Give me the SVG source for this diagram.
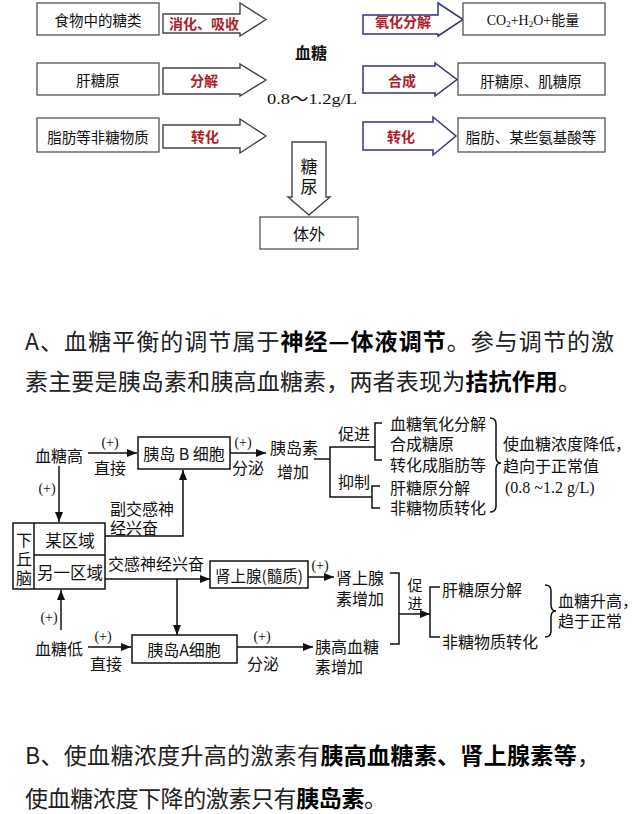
<svg xmlns="http://www.w3.org/2000/svg" width="640" height="814" viewBox="0 0 640 814">
<defs>
<style>
text{font-family:"Noto Sans CJK SC","Noto Sans",sans-serif;fill:#111;dominant-baseline:central}
.box{fill:#fff;stroke:#555;stroke-width:1.3}
.arL{fill:#fff;stroke:#444;stroke-width:1.4}
.arR{fill:#fff;stroke:#33337a;stroke-width:1.5}
.t1{font-size:14.5px;text-anchor:middle}
.red{font-size:14px;fill:#b01c28;font-weight:bold;text-anchor:middle}
.d{font-size:16px}
.c{text-anchor:middle}
.pl{font-family:"Liberation Serif","Noto Sans CJK SC",serif;font-size:14px;text-anchor:middle}
.ln{fill:none;stroke:#111;stroke-width:1.5}
.para{font-size:23px;fill:#222}
.b{font-weight:bold;fill:#000}
</style>
<marker id="ah" viewBox="0 0 10 8" refX="10" refY="4" markerWidth="10" markerHeight="8" markerUnits="userSpaceOnUse" orient="auto">
<path d="M0,0 L10,4 L0,8 z" fill="#111"/>
</marker>
</defs>
<rect width="640" height="814" fill="#fff"/>

<!-- top section -->
<g id="food"><rect class="box" x="37" y="3" width="122" height="32"/><text class="t1" x="98" y="19">食物中的糖类</text></g>
<g id="arr-digest"><polygon class="arL" points="163,14 240,14 240,3 266,19.5 240,36 240,33 163,33"/><text class="red" x="204" y="23">消化、吸收</text></g>
<g id="liverglycogen"><rect class="box" x="37" y="63" width="122" height="32"/><text class="t1" x="98" y="79">肝糖原</text></g>
<g id="arr-decomp"><polygon class="arL" points="163,68 240,68 240,64 266,80 240,96 240,94 163,94"/><text class="red" x="204" y="80">分解</text></g>
<g id="fat"><rect class="box" x="37" y="118" width="122" height="34"/><text class="t1" x="98" y="136">脂肪等非糖物质</text></g>
<g id="arr-conv1"><polygon class="arL" points="163,125 240,125 240,119 266,136 240,153 240,148 163,148"/><text class="red" x="205" y="136">转化</text></g>

<g id="bloodsugar">
<text x="311" y="52" style="font-size:16px;font-weight:bold;text-anchor:middle">血糖</text>
<text x="267" y="99" textLength="90" lengthAdjust="spacingAndGlyphs" style="font-family:'Liberation Serif','Noto Sans CJK SC',serif;font-size:15px">0.8～1.2g/L</text>
</g>

<g id="arr-oxid"><polygon class="arR" points="363,15 438,15 438,3 463,19.5 438,36 438,34 363,34"/><text class="red" x="403" y="21">氧化分解</text></g>
<g id="co2"><rect class="box" x="463" y="3" width="142" height="32"/><text x="533" y="20" style="font-family:'Liberation Serif','Noto Sans CJK SC',serif;font-size:14px;text-anchor:middle">CO<tspan font-size="9" dy="4">2</tspan><tspan dy="-4">+H</tspan><tspan font-size="9" dy="4">2</tspan><tspan dy="-4">O+能量</tspan></text></g>
<g id="arr-synth"><polygon class="arR" points="363,66 435,66 435,63 457,79.5 435,96 435,93 363,93"/><text class="red" x="402" y="80">合成</text></g>
<g id="glycogens"><rect class="box" x="458" y="63" width="147" height="32"/><text class="t1" x="531" y="80">肝糖原、肌糖原</text></g>
<g id="arr-conv2"><polygon class="arR" points="363,122 433,122 433,117 456,136 433,155 433,150 363,150"/><text class="red" x="401" y="136">转化</text></g>
<g id="fatamino"><rect class="box" x="458" y="118" width="147" height="34"/><text class="t1" x="531" y="136">脂肪、某些氨基酸等</text></g>

<g id="arr-urine"><polygon class="arL" points="292,142 326,142 326,197 330,197 309,215 288,197 292,197"/>
<text x="309" y="165" style="font-size:17px;text-anchor:middle">糖</text><text x="309" y="185" style="font-size:17px;text-anchor:middle">尿</text></g>
<g id="outside"><rect class="box" x="260" y="217" width="98" height="32"/><text x="309" y="233" style="font-size:16px;text-anchor:middle">体外</text></g>

<!-- paragraph A -->
<text class="para" x="25" y="340" textLength="589" lengthAdjust="spacing">A、血糖平衡的调节属于<tspan class="b">神经—体液调节</tspan>。参与调节的激</text>
<text class="para" x="25" y="380" textLength="556" lengthAdjust="spacing">素主要是胰岛素和胰高血糖素，两者表现为<tspan class="b">拮抗作用</tspan>。</text>

<!-- lower diagram nodes -->
<g id="high"><text class="d" x="35" y="455">血糖高</text></g>
<g id="betacell"><rect class="ln" x="138" y="437" width="92" height="32"/><text class="d c" x="184" y="453">胰岛 B 细胞</text></g>
<g id="insulin"><text class="d" x="270" y="447">胰岛素</text><text class="d" x="277" y="471">增加</text></g>
<g id="promote1"><text class="d c" x="354" y="433">促进</text>
<text class="d" x="390" y="423">血糖氧化分解</text><text class="d" x="390" y="443">合成糖原</text><text class="d" x="390" y="464">转化成脂肪等</text></g>
<g id="inhibit"><text class="d c" x="354" y="481">抑制</text>
<text class="d" x="390" y="487">肝糖原分解</text><text class="d" x="390" y="507">非糖物质转化</text></g>
<g id="result1"><text class="d" x="503" y="443">使血糖浓度降低，</text><text class="d" x="503" y="465">趋向于正常值</text>
<text x="505" y="487" style="font-family:'Liberation Serif',serif;font-size:16px">(0.8 ~1.2 g/L)</text></g>
<g id="hypothalamus"><rect class="ln" x="13" y="523" width="92" height="66"/>
<line class="ln" x1="34" y1="523" x2="34" y2="589"/><line class="ln" x1="34" y1="555" x2="105" y2="555"/>
<text class="c" x="24" y="539" style="font-size:16px">下</text><text class="c" x="24" y="558" style="font-size:16px">丘</text><text class="c" x="24" y="577" style="font-size:16px">脑</text>
<text class="c" x="70" y="540" style="font-size:16.5px">某区域</text><text class="c" x="70" y="572" style="font-size:16.5px">另一区域</text></g>
<g id="adrenal"><rect class="ln" x="210" y="561" width="98" height="27"/><text class="c" x="259" y="575" style="font-size:15.5px">肾上腺(髓质)</text></g>
<g id="adrenaline"><text class="d" x="336" y="577">肾上腺</text><text class="d" x="336" y="598">素增加</text></g>
<g id="low"><text class="d" x="35" y="648">血糖低</text></g>
<g id="alphacell"><rect class="ln" x="132" y="635" width="105" height="28"/><text class="d c" x="184" y="649">胰岛A细胞</text></g>
<g id="glucagon"><text class="d" x="315" y="646">胰高血糖</text><text class="d" x="315" y="666">素增加</text></g>
<g id="promote2"><text class="c" x="415" y="584" style="font-size:15px">促</text><text class="c" x="415" y="602" style="font-size:15px">进</text>
<text class="d" x="442" y="589">肝糖原分解</text><text class="d" x="442" y="641">非糖物质转化</text></g>
<g id="result2"><text class="d" x="558" y="600">血糖升高，</text><text class="d" x="558" y="620">趋于正常</text></g>

<!-- connectors -->
<g id="connectors">
<line class="ln" x1="88" y1="453" x2="137" y2="453" marker-end="url(#ah)"/>
<text class="pl" x="110" y="442">(+)</text><text class="d c" x="110" y="467">直接</text>
<line class="ln" x1="230" y1="453" x2="266" y2="453" marker-end="url(#ah)"/>
<text class="pl" x="243" y="442">(+)</text><text class="d c" x="248" y="467">分泌</text>
<polyline class="ln" points="314,459 330,459"/>
<polyline class="ln" points="375,447 330,447 330,497 372,497"/>
<polyline class="ln" points="382,423 375,423 375,460 382,460"/>
<polyline class="ln" points="380,486 372,486 372,508 380,508"/>
<path class="ln" d="M490,418 Q496,418 496,424 L496,457 Q496,463 501,463 Q496,463 496,469 L496,506 Q496,512 490,512"/>
<line class="ln" x1="59" y1="466" x2="59" y2="522" marker-end="url(#ah)"/>
<text class="pl" x="47" y="488">(+)</text>
<polyline class="ln" points="105,536 183,536 183,470" marker-end="url(#ah)"/>
<text class="d" x="110" y="508">副交感神</text><text class="d" x="110" y="527">经兴奋</text>
<line class="ln" x1="105" y1="579" x2="210" y2="579" marker-end="url(#ah)"/>
<text class="d" x="108" y="563">交感神经兴奋</text>
<line class="ln" x1="177" y1="579" x2="177" y2="635" marker-end="url(#ah)"/>
<line class="ln" x1="308" y1="577" x2="334" y2="577" marker-end="url(#ah)"/>
<text class="pl" x="320" y="565">(+)</text>
<line class="ln" x1="88" y1="647" x2="131" y2="647" marker-end="url(#ah)"/>
<text class="pl" x="103" y="636">(+)</text><text class="d c" x="106" y="663">直接</text>
<line class="ln" x1="61" y1="630" x2="61" y2="590" marker-end="url(#ah)"/>
<text class="pl" x="49" y="617">(+)</text>
<line class="ln" x1="237" y1="647" x2="313" y2="647" marker-end="url(#ah)"/>
<text class="pl" x="262" y="636">(+)</text><text class="d c" x="263" y="663">分泌</text>
<polyline class="ln" points="390,573 399,573 399,644 390,644"/>
<line class="ln" x1="399" y1="614" x2="430" y2="614" marker-end="url(#ah)"/>
<polyline class="ln" points="440,587 430,587 430,637 440,637"/>
<path class="ln" d="M545,585 Q551,585 551,591 L551,605 Q551,611 556,611 Q551,611 551,617 L551,631 Q551,637 545,637"/>
</g>

<!-- paragraph B -->
<text class="para" x="25" y="754" textLength="575" lengthAdjust="spacing">B、使血糖浓度升高的激素有<tspan class="b">胰高血糖素、肾上腺素等</tspan>，</text>
<text class="para" x="25" y="797" textLength="362" lengthAdjust="spacing">使血糖浓度下降的激素只有<tspan class="b">胰岛素</tspan>。</text>
</svg>
